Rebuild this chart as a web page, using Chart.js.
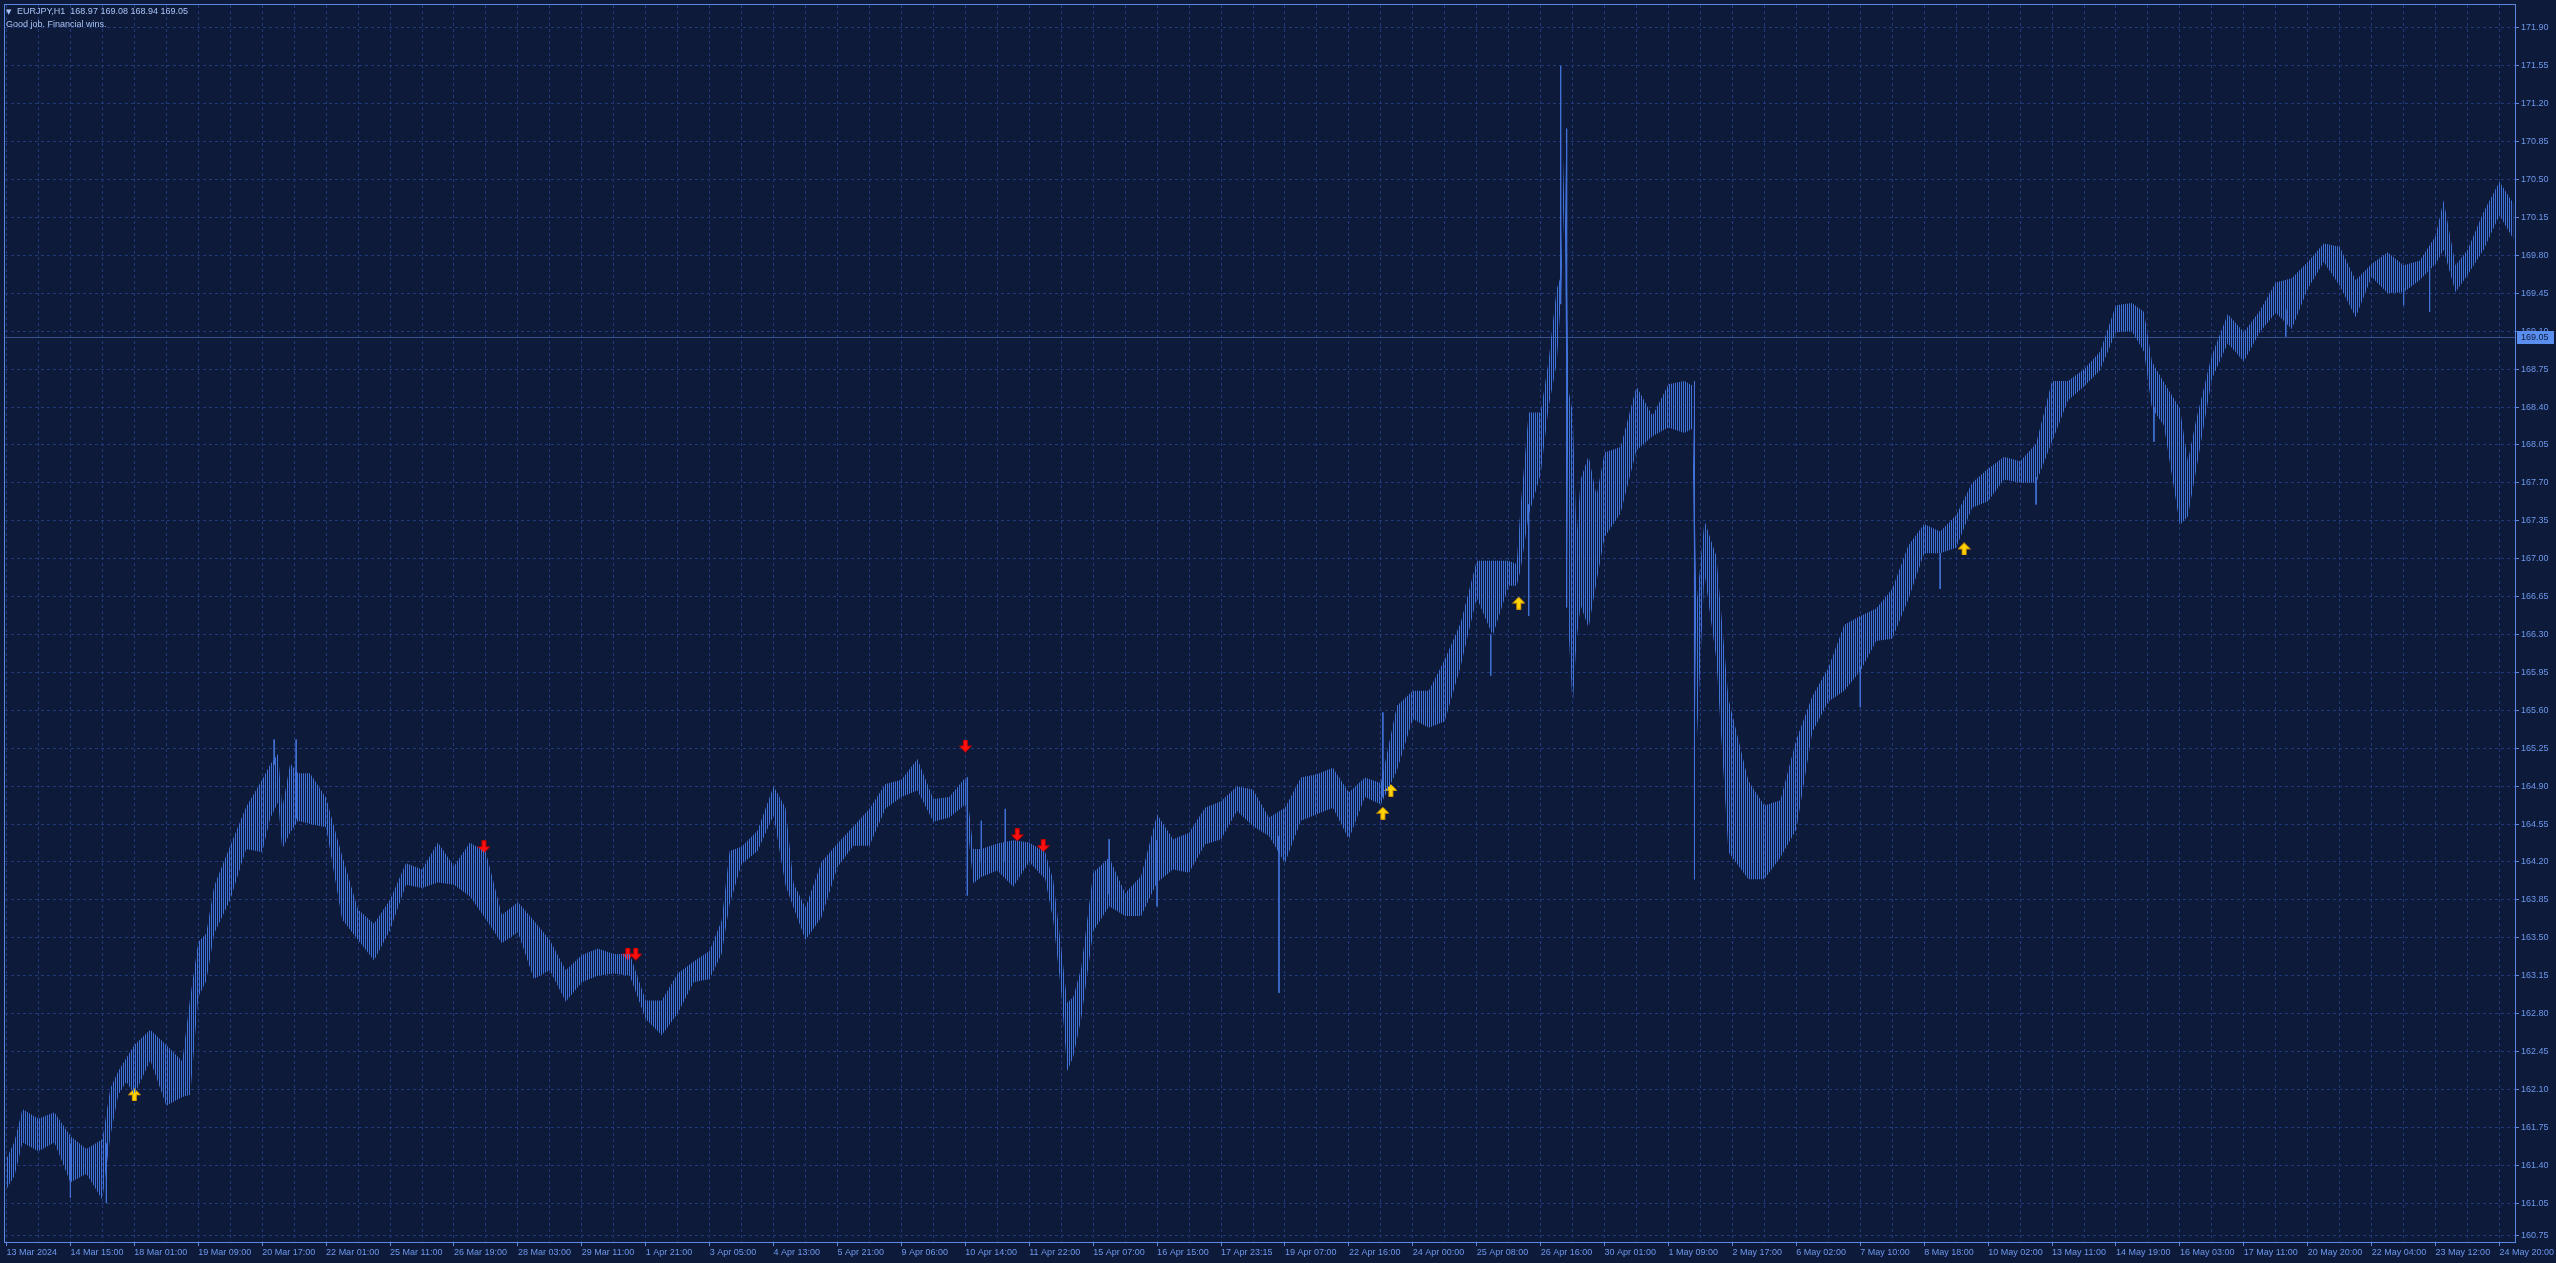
<!DOCTYPE html>
<html>
<head>
<meta charset="utf-8">
<title>EURJPY,H1</title>
<script src="https://cdn.jsdelivr.net/npm/chart.js@4.4.1/dist/chart.umd.min.js"></script>
<style>
  body { margin: 0; background: #0e1a3a; }
  #wrap { position: relative; width: 2556px; height: 1263px; }
  #hdr { position: absolute; left: 6px; top: 5px; font: 9px 'Liberation Sans', Arial, sans-serif; color: #a9c4f5; line-height: 13px; }
  #hdr .tri { font: 7px 'DejaVu Sans', sans-serif; display: inline-block; width: 11px; }
  #title { white-space: pre; }
</style>
</head>
<body>
<div id="wrap">
  <canvas id="chart" width="2556" height="1263"></canvas>
  <div id="hdr">
    <div><span class="tri">▼</span><span id="title"></span></div>
    <div>Good job. Financial wins.</div>
  </div>
</div>
<script>
// EURJPY H1, 13 Mar - 24 May 2024. x = bar number (one bar per hour slot)
const symbol = 'EURJPY,H1';
const ohlc = [168.97, 169.08, 168.94, 169.05];
const lastPrice = 169.05;

const timeLabels = [
  '13 Mar 2024', '14 Mar 15:00', '18 Mar 01:00', '19 Mar 09:00', '20 Mar 17:00', '22 Mar 01:00',
  '25 Mar 11:00', '26 Mar 19:00', '28 Mar 03:00', '29 Mar 11:00', '1 Apr 21:00', '3 Apr 05:00',
  '4 Apr 13:00', '5 Apr 21:00', '9 Apr 06:00', '10 Apr 14:00', '11 Apr 22:00', '15 Apr 07:00',
  '16 Apr 15:00', '17 Apr 23:15', '19 Apr 07:00', '22 Apr 16:00', '24 Apr 00:00', '25 Apr 08:00',
  '26 Apr 16:00', '30 Apr 01:00', '1 May 09:00', '2 May 17:00', '6 May 02:00', '7 May 10:00',
  '8 May 18:00', '10 May 02:00', '13 May 11:00', '14 May 19:00', '16 May 03:00', '17 May 11:00',
  '20 May 20:00', '22 May 04:00', '23 May 12:00', '24 May 20:00'
];

const priceTicks = [
  171.90, 171.55, 171.20, 170.85, 170.50, 170.15, 169.80, 169.45, 169.10, 168.75, 168.40,
  168.05, 167.70, 167.35, 167.00, 166.65, 166.30, 165.95, 165.60, 165.25, 164.90, 164.55,
  164.20, 163.85, 163.50, 163.15, 162.80, 162.45, 162.10, 161.75, 161.40, 161.05, 160.75
];

// high / low envelope of the bars, sampled along the chart
const barNo = [
  0, 4, 8, 16, 24, 32, 40, 48, 52, 56, 60, 64, 72, 80, 88, 92, 96, 100, 104, 112,
  120, 128, 132, 136, 138, 142, 146, 152, 160, 168, 176, 184, 192, 200, 208, 216, 224, 232, 240, 248,
  256, 264, 272, 280, 288, 296, 304, 312, 320, 328, 336, 344, 352, 358, 362, 368, 376, 384, 390, 394,
  400, 408, 416, 424, 432, 440, 448, 456, 464, 472, 480, 484, 488, 496, 504, 512, 520, 524, 528, 531,
  534, 538, 544, 552, 560, 568, 576, 584, 592, 600, 608, 616, 624, 632, 640, 648, 656, 664, 672, 680,
  688, 696, 704, 712, 720, 728, 736, 744, 752, 756, 758, 762, 768, 772, 776, 778, 780, 782, 784, 786,
  788, 792, 796, 800, 808, 816, 824, 832, 840, 844, 846, 850, 856, 862, 872, 880, 888, 896, 904, 912,
  920, 928, 936, 944, 952, 960, 968, 976, 984, 992, 1000, 1008, 1016, 1024, 1032, 1040, 1048, 1056, 1064, 1070,
  1074, 1080, 1088, 1092, 1096, 1104, 1112, 1120, 1128, 1136, 1144, 1152, 1160, 1168, 1176, 1184, 1192, 1200, 1208, 1216,
  1220, 1226, 1232, 1240, 1248, 1255
];
const highs = [
  161.46, 161.62, 161.92, 161.83, 161.89, 161.67, 161.55, 161.64, 162.11, 162.27, 162.39, 162.51, 162.65, 162.51, 162.36, 162.95, 163.46, 163.54, 163.98, 164.35,
  164.71, 164.96, 165.10, 165.20, 164.69, 165.11, 165.02, 165.02, 164.79, 164.26, 163.76, 163.63, 163.85, 164.19, 164.13, 164.38, 164.16, 164.38, 164.29, 163.71,
  163.83, 163.66, 163.48, 163.20, 163.34, 163.40, 163.35, 163.35, 162.92, 162.92, 163.17, 163.28, 163.38, 163.66, 164.30, 164.34, 164.49, 164.90, 164.70, 164.00,
  163.78, 164.20, 164.37, 164.53, 164.69, 164.92, 164.96, 165.15, 164.78, 164.80, 164.98, 164.32, 164.32, 164.37, 164.40, 164.38, 164.29, 164.03, 163.41, 162.90,
  162.95, 163.22, 164.10, 164.24, 163.91, 164.07, 164.64, 164.41, 164.47, 164.70, 164.76, 164.90, 164.87, 164.61, 164.70, 164.98, 165.01, 165.07, 164.84, 164.98,
  164.93, 165.64, 165.78, 165.78, 166.07, 166.41, 166.98, 166.98, 166.98, 166.95, 167.49, 168.35, 168.35, 168.83, 169.49, 169.60, 170.90, 168.55, 168.36, 167.20,
  167.73, 167.95, 167.58, 167.98, 168.03, 168.59, 168.32, 168.61, 168.64, 168.60, 166.57, 167.35, 167.02, 165.71, 164.95, 164.72, 164.77, 165.33, 165.73, 165.99,
  166.39, 166.47, 166.54, 166.72, 167.12, 167.32, 167.25, 167.40, 167.70, 167.83, 167.94, 167.90, 168.06, 168.64, 168.64, 168.75, 168.91, 169.34, 169.36, 169.28,
  168.82, 168.63, 168.39, 167.90, 168.27, 168.88, 169.26, 169.09, 169.29, 169.55, 169.59, 169.74, 169.91, 169.88, 169.57, 169.72, 169.83, 169.71, 169.75, 169.98,
  170.31, 169.71, 169.85, 170.20, 170.48, 170.28
];
const lows = [
  161.18, 161.30, 161.61, 161.53, 161.61, 161.24, 161.32, 161.08, 161.67, 162.05, 162.17, 162.05, 162.37, 161.95, 162.03, 162.05, 162.95, 163.10, 163.54, 163.85,
  164.32, 164.29, 164.60, 164.75, 164.32, 164.47, 164.58, 164.55, 164.52, 163.67, 163.48, 163.29, 163.57, 163.99, 163.96, 164.01, 163.99, 163.88, 163.67, 163.45,
  163.55, 163.12, 163.20, 162.91, 163.09, 163.15, 163.17, 163.15, 162.75, 162.60, 162.80, 163.09, 163.12, 163.35, 163.81, 164.18, 164.30, 164.63, 163.98, 163.78,
  163.48, 163.69, 164.15, 164.35, 164.35, 164.69, 164.80, 164.86, 164.57, 164.61, 164.73, 164.00, 164.06, 164.12, 163.97, 164.20, 164.04, 163.66, 163.00, 162.27,
  162.40, 162.75, 163.56, 163.79, 163.70, 163.70, 164.01, 164.13, 164.10, 164.36, 164.41, 164.67, 164.53, 164.44, 164.19, 164.58, 164.64, 164.70, 164.41, 164.80,
  164.73, 165.04, 165.52, 165.44, 165.50, 166.01, 166.64, 166.29, 166.75, 166.75, 166.90, 167.40, 167.78, 168.40, 168.80, 169.35, 170.40, 166.33, 165.63, 166.25,
  166.57, 166.36, 166.79, 167.20, 167.42, 168.00, 168.13, 168.21, 168.16, 168.20, 165.25, 166.87, 166.06, 164.29, 164.04, 164.04, 164.24, 164.50, 165.40, 165.68,
  165.78, 165.96, 166.24, 166.26, 166.62, 167.05, 167.05, 167.10, 167.47, 167.53, 167.73, 167.70, 167.70, 168.08, 168.46, 168.59, 168.74, 169.09, 169.10, 168.91,
  168.39, 168.23, 167.31, 167.39, 167.80, 168.66, 168.99, 168.82, 169.09, 169.27, 169.12, 169.49, 169.74, 169.52, 169.23, 169.60, 169.45, 169.46, 169.57, 169.72,
  169.85, 169.46, 169.62, 169.85, 170.17, 169.95
];

// single long bars that stick out of the envelope
const wickBar  = [32, 50, 134, 145, 481, 488, 500, 552, 576, 637, 689, 743, 762, 778, 781, 845, 928, 968, 1016, 1075, 1141, 1200, 1213];
const wickHigh = [161.60, 161.60, 165.33, 165.33, 164.98, 164.58, 164.69, 164.41, 164.40, 164.44, 165.58, 166.30, 167.50, 171.55, 170.97, 168.64, 166.00, 167.05, 167.75, 168.40, 169.30, 169.50, 169.70];
const wickLow  = [161.10, 161.05, 165.10, 164.60, 163.89, 164.20, 164.20, 163.90, 163.79, 162.99, 164.80, 165.92, 166.47, 169.35, 166.55, 164.04, 165.63, 166.72, 167.50, 168.08, 169.05, 169.34, 169.28];

// signal arrows
const buyBar = [64, 689, 693, 757, 980];
const buyPrice = [162.05, 164.65, 164.86, 166.59, 167.09];
const sellBar = [239, 311, 315, 480, 506, 519];
const sellPrice = [164.34, 163.35, 163.35, 165.27, 164.45, 164.35];

// colours
const bgCol = '#0e1a3a';
const gridCol = '#21397a';
const barCol = '#4172d8';
const axisCol = '#5a88e0';
const textCol = '#6d98ec';

document.getElementById('title').textContent = symbol + '  ' + ohlc.map(v => v.toFixed(2)).join(' ');

function stripes(color) {
    const c = document.createElement('canvas');
    c.width = 2; c.height = 1;
    const g = c.getContext('2d');
    g.fillStyle = color;
    g.fillRect(1, 0, 1, 1);
    return g.createPattern(c, 'repeat');
}

function arrowImg(up, fill, edge) {
    const c = document.createElement('canvas');
    c.width = 13; c.height = 13;
    const g = c.getContext('2d');
    if (!up) { g.translate(0, 13); g.scale(1, -1); }
    g.beginPath();
    g.moveTo(6.5, 0.5);
    g.lineTo(12.5, 6.5);
    g.lineTo(8.5, 6.5);
    g.lineTo(8.5, 12.5);
    g.lineTo(4.5, 12.5);
    g.lineTo(4.5, 6.5);
    g.lineTo(0.5, 6.5);
    g.closePath();
    g.fillStyle = fill;
    g.fill();
    g.strokeStyle = edge;
    g.lineWidth = 1;
    g.stroke();
    return c;
}

const wickPts = [];
wickBar.forEach((b, i) => {
    wickPts.push({ x: b, y: wickHigh[i] }, { x: b, y: wickLow[i] }, { x: b, y: null });
});

const chartFrame = {
    id: 'chartFrame',
    beforeDraw(chart) {
        const ctx = chart.ctx;
        ctx.save();
        ctx.fillStyle = bgCol;
        ctx.fillRect(0, 0, chart.width, chart.height);
        ctx.restore();
    },
    beforeDatasetsDraw(chart) {
        const { ctx, chartArea: a, scales: { y } } = chart;
        const py = Math.round(y.getPixelForValue(lastPrice)) + 0.5;
        ctx.save();
        ctx.strokeStyle = '#34508f';
        ctx.lineWidth = 1;
        ctx.beginPath();
        ctx.moveTo(a.left, py);
        ctx.lineTo(a.right, py);
        ctx.stroke();
        ctx.restore();
    },
    afterDraw(chart) {
        const { ctx, chartArea: a, scales: { y } } = chart;
        ctx.save();
        ctx.strokeStyle = axisCol;
        ctx.lineWidth = 1;
        ctx.strokeRect(a.left - 0.5, a.top - 0.5, a.right - a.left + 1, a.bottom - a.top + 1);
        // current price tag
        const py = Math.round(y.getPixelForValue(lastPrice));
        ctx.fillStyle = '#5a8ff0';
        ctx.fillRect(a.right + 2, py - 6, 37, 13);
        ctx.fillStyle = '#0e1a3a';
        ctx.font = "9px 'Liberation Sans', Arial, sans-serif";
        ctx.textBaseline = 'middle';
        ctx.fillText(lastPrice.toFixed(2), a.right + 6, py + 1);
        ctx.restore();
    }
};

Chart.defaults.font.family = "'Liberation Sans', Arial, sans-serif";
Chart.defaults.font.size = 9;

new Chart(document.getElementById('chart'), {
    type: 'line',
    data: {
        datasets: [
            {
                label: 'high',
                data: barNo.map((b, i) => ({ x: b, y: highs[i] })),
                borderColor: 'rgba(0,0,0,0)',
                backgroundColor: stripes(barCol),
                fill: '+1',
                pointRadius: 0,
                tension: 0
            },
            {
                label: 'low',
                data: barNo.map((b, i) => ({ x: b, y: lows[i] })),
                borderColor: 'rgba(0,0,0,0)',
                fill: false,
                pointRadius: 0,
                tension: 0
            },
            {
                label: 'wicks',
                data: wickPts,
                borderColor: barCol,
                borderWidth: 1,
                pointRadius: 0,
                spanGaps: false,
                fill: false
            },
            {
                label: 'buy',
                data: buyBar.map((b, i) => ({ x: b, y: buyPrice[i] })),
                showLine: false,
                pointStyle: arrowImg(true, '#ffd400', '#d99a00')
            },
            {
                label: 'sell',
                data: sellBar.map((b, i) => ({ x: b, y: sellPrice[i] })),
                showLine: false,
                pointStyle: arrowImg(false, '#ff1010', '#c00000')
            }
        ]
    },
    options: {
        responsive: false,
        animation: false,
        events: [],
        layout: { padding: { left: 2, top: 2, right: 0, bottom: 0 } },
        plugins: {
            legend: { display: false },
            tooltip: { enabled: false }
        },
        scales: {
            x: {
                type: 'linear',
                min: -0.75,
                max: 1255.75,
                offset: false,
                afterBuildTicks: s => {
                    const t = [];
                    for (let v = 0; v <= 1255; v += 16) t.push({ value: v });
                    s.ticks = t;
                },
                afterFit: s => { s.height = 21; s.paddingLeft = 0; s.paddingRight = 0; },
                ticks: {
                    autoSkip: false,
                    maxRotation: 0,
                    minRotation: 0,
                    align: 'start',
                    padding: 1,
                    color: textCol,
                    callback: v => (v % 32 === 0 ? timeLabels[v / 32] : '')
                },
                grid: {
                    color: gridCol,
                    tickLength: 4,
                    tickBorderDash: [],
                    tickColor: c => (c.tick && c.tick.value % 32 === 0 ? axisCol : 'rgba(0,0,0,0)')
                },
                border: { display: true, color: axisCol, dash: [3, 3] }
            },
            y: {
                type: 'linear',
                position: 'right',
                min: 160.691,
                max: 172.112,
                afterBuildTicks: s => { s.ticks = priceTicks.map(v => ({ value: v })); },
                afterFit: s => { s.width = 41; s.paddingTop = 0; s.paddingBottom = 0; },
                ticks: {
                    autoSkip: false,
                    padding: 2,
                    color: textCol,
                    callback: v => v.toFixed(2)
                },
                grid: {
                    color: gridCol,
                    tickLength: 4,
                    tickBorderDash: [],
                    tickColor: axisCol
                },
                border: { display: true, color: axisCol, dash: [3, 3] }
            }
        }
    },
    plugins: [chartFrame]
});
</script>
</body>
</html>
